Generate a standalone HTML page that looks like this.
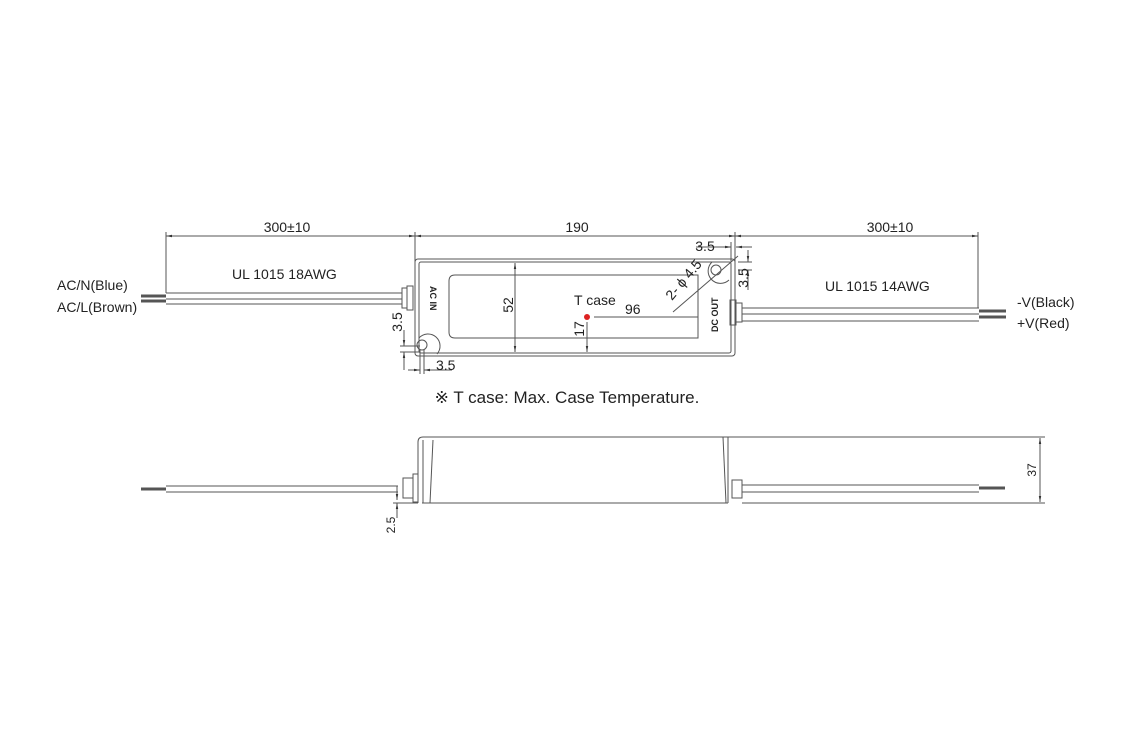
<!DOCTYPE html>
<html><head><style>
html,body{margin:0;padding:0;background:#fff;}
svg{display:block;font-family:"Liberation Sans Narrow","Liberation Sans",sans-serif;}
</style></head><body>
<svg width="1125" height="750" viewBox="0 0 1125 750" xmlns="http://www.w3.org/2000/svg">
<defs>
<marker id="a" viewBox="0 0 10 10" refX="10" refY="5" markerWidth="6" markerHeight="6" orient="auto-start-reverse"><path d="M0,3 L10,5 L0,7z" fill="#333"/></marker>
</defs>
<g stroke="#555" fill="none" stroke-width="1">
<line x1="166" y1="236" x2="415" y2="236" marker-start="url(#a)" marker-end="url(#a)"/>
<line x1="415" y1="236" x2="735" y2="236" marker-start="url(#a)" marker-end="url(#a)"/>
<line x1="735" y1="236" x2="978" y2="236" marker-start="url(#a)" marker-end="url(#a)"/>
<line x1="166" y1="232" x2="166" y2="293"/>
<line x1="415" y1="232" x2="415" y2="262"/>
<line x1="735" y1="232" x2="735" y2="262"/>
<line x1="978" y1="232" x2="978" y2="308"/>
<rect x="415" y="259" width="320" height="97" rx="3"/>
<rect x="419" y="262" width="312" height="91" rx="2"/>
<path d="M455,275 H698 V338 H455 Q449,338 449,332 V281 Q449,275 455,275z"/>
<line x1="515" y1="263" x2="515" y2="352" marker-start="url(#a)" marker-end="url(#a)"/>
<line x1="587" y1="322" x2="587" y2="352" marker-end="url(#a)"/>
<line x1="594" y1="317" x2="698" y2="317"/>
<line x1="673" y1="312" x2="738" y2="256"/>
<circle cx="716" cy="270" r="5"/><circle cx="422" cy="345" r="5"/>
<path d="M712,262 a12,12 0 0 0 17,18"/><path d="M419,338 a12,12 0 0 1 18,16"/>
<line x1="696" y1="247" x2="731" y2="247" marker-end="url(#a)"/>
<line x1="752" y1="247" x2="736" y2="247" marker-end="url(#a)"/>
<line x1="731" y1="242" x2="731" y2="262"/>
<line x1="748" y1="250" x2="748" y2="262" marker-end="url(#a)"/>
<line x1="748" y1="290" x2="748" y2="270" marker-end="url(#a)"/>
<line x1="738" y1="262" x2="752" y2="262"/><line x1="738" y1="270" x2="752" y2="270"/>
<line x1="404" y1="330" x2="404" y2="346" marker-end="url(#a)"/>
<line x1="404" y1="370" x2="404" y2="352" marker-end="url(#a)"/>
<line x1="400" y1="346" x2="420" y2="346"/><line x1="400" y1="352" x2="420" y2="352"/>
<line x1="408" y1="370" x2="420" y2="370" marker-end="url(#a)"/>
<line x1="452" y1="370" x2="424" y2="370" marker-end="url(#a)"/>
<line x1="420" y1="350" x2="420" y2="374"/><line x1="424" y1="350" x2="424" y2="374"/>
<line x1="166" y1="293" x2="402" y2="293"/><line x1="166" y1="299" x2="402" y2="299"/><line x1="166" y1="304" x2="402" y2="304"/>
<rect x="402" y="288" width="5" height="20"/><rect x="407" y="286" width="6" height="24"/>
<line x1="742" y1="308" x2="979" y2="308"/><line x1="742" y1="314" x2="979" y2="314"/><line x1="742" y1="321" x2="979" y2="321"/>
<rect x="730" y="300" width="6" height="25"/><rect x="736" y="303" width="6" height="19"/>
<path d="M418,503 V442 Q418,437 423,437 H728 V503"/>
<line x1="423" y1="437" x2="1045" y2="437"/>
<line x1="422" y1="503" x2="728" y2="503"/>
<line x1="742" y1="503" x2="1045" y2="503"/>
<line x1="423" y1="440" x2="423" y2="503"/><line x1="433" y1="440" x2="430" y2="503"/>
<line x1="723" y1="437" x2="726" y2="503"/>
<line x1="1040" y1="438" x2="1040" y2="502" marker-start="url(#a)" marker-end="url(#a)"/>
<line x1="166" y1="486" x2="398" y2="486"/><line x1="166" y1="492" x2="398" y2="492"/>
<rect x="403" y="478" width="10" height="20"/><rect x="413" y="474" width="5" height="28"/>
<line x1="742" y1="485" x2="979" y2="485"/><line x1="742" y1="492" x2="979" y2="492"/>
<rect x="732" y="480" width="10" height="18"/>
<line x1="397" y1="486" x2="397" y2="500" marker-end="url(#a)"/>
<line x1="397" y1="518" x2="397" y2="503" marker-end="url(#a)"/>
<line x1="393" y1="503" x2="418" y2="503"/>
</g>
<g stroke="#555" stroke-width="3">
<line x1="141" y1="296" x2="166" y2="296"/><line x1="141" y1="301" x2="166" y2="301"/>
<line x1="979" y1="311" x2="1006" y2="311"/><line x1="979" y1="317" x2="1006" y2="317"/>
<line x1="141" y1="489" x2="166" y2="489"/><line x1="979" y1="488" x2="1005" y2="488"/>
</g>
<circle cx="587" cy="317" r="3" fill="#d22"/>
<g fill="#222" font-size="14">
<text x="287" y="232" text-anchor="middle">300±10</text>
<text x="577" y="232" text-anchor="middle">190</text>
<text x="890" y="232" text-anchor="middle">300±10</text>
<text x="705" y="251" text-anchor="middle">3.5</text>
<text x="232" y="279">UL 1015 18AWG</text>
<text x="825" y="291">UL 1015 14AWG</text>
<text x="57" y="290">AC/N(Blue)</text>
<text x="57" y="312">AC/L(Brown)</text>
<text x="1017" y="307">-V(Black)</text>
<text x="1017" y="328">+V(Red)</text>
<text x="574" y="305">T case</text>
<text x="625" y="314">96</text>
<text x="436" y="370">3.5</text>
<text transform="translate(513,305) rotate(-90)" text-anchor="middle">52</text>
<text transform="translate(584,329) rotate(-90)" text-anchor="middle">17</text>
<text transform="translate(402,322) rotate(-90)" text-anchor="middle">3.5</text>
<text transform="translate(748,278) rotate(-90)" text-anchor="middle">3.5</text>
<text transform="translate(672,301) rotate(-50)">2- ϕ 4.5</text>
<text transform="translate(395,525) rotate(-90)" text-anchor="middle" font-size="12">2.5</text>
<text transform="translate(1036,470) rotate(-90)" text-anchor="middle" font-size="12">37</text>
<text transform="translate(430,286) rotate(90)" font-size="9" font-weight="bold">AC  IN</text>
<text transform="translate(718,332) rotate(-90)" font-size="9" font-weight="bold">DC  OUT</text>
<text x="567" y="403" text-anchor="middle" font-size="17">※ T case: Max. Case Temperature.</text>
</g>
</svg>
</body></html>
